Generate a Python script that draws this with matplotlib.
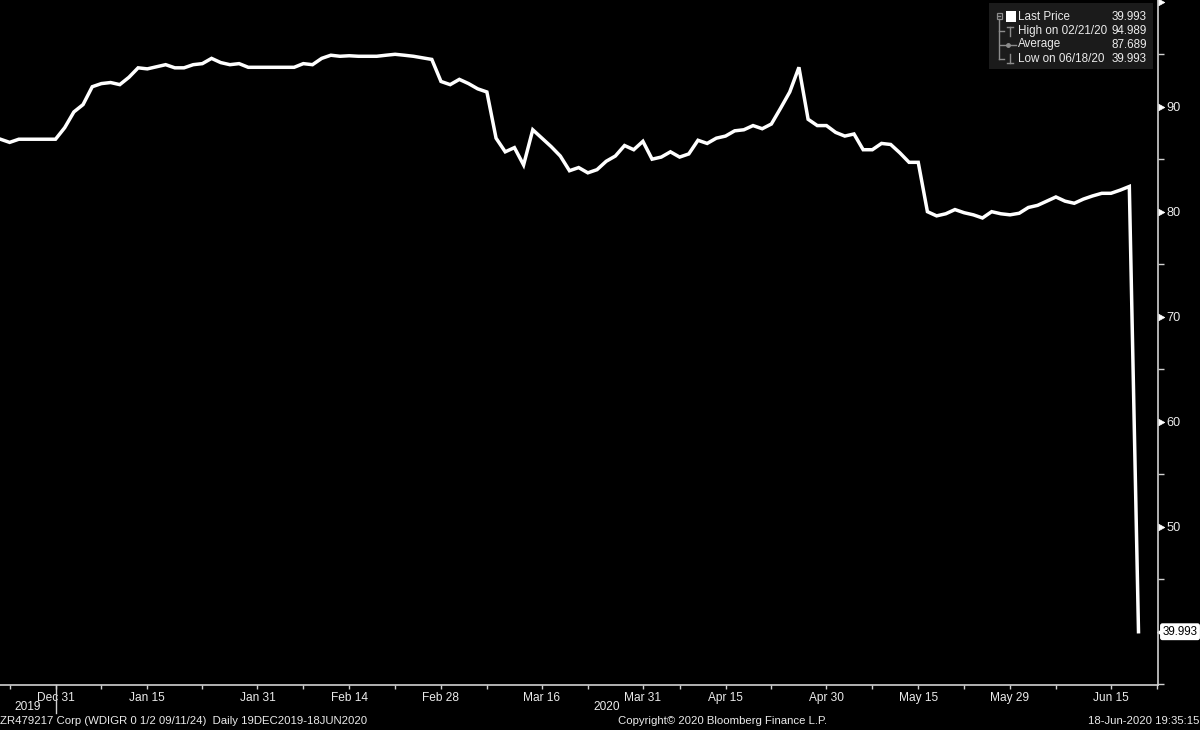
import numpy as np
import pandas as pd
import matplotlib
matplotlib.use("Agg")
import matplotlib.pyplot as plt
from matplotlib.path import Path
from matplotlib.patches import Rectangle
from matplotlib.lines import Line2D
import matplotlib.transforms as mtransforms

# ---------------- data ----------------
start_date = "2019-12-19"
end_date = "2020-06-18"
holidays = ["2019-12-25", "2019-12-26", "2020-01-01", "2020-04-10", "2020-04-13", "2020-05-01"]
dates = pd.bdate_range(start_date, end_date, freq="C", holidays=holidays)

prices = [
    86.9, 86.6, 86.9, 86.9, 86.9, 86.9, 86.9,
    88.0, 89.5, 90.2, 91.9, 92.2, 92.3, 92.1, 92.8, 93.7, 93.6,
    93.8, 94.0, 93.7, 93.7, 94.0, 94.1, 94.6, 94.2, 94.0, 94.1,
    93.75, 93.75, 93.75, 93.75, 93.75, 93.75,
    94.1, 94.0, 94.6, 94.9, 94.8, 94.85, 94.8, 94.8, 94.8, 94.9, 94.989,
    94.9, 94.8, 94.65, 94.5, 92.4, 92.1, 92.6, 92.2, 91.7, 91.4,
    87.0, 85.7, 86.1, 84.45, 87.8, 87.0, 86.2, 85.3, 83.9, 84.2,
    83.7, 84.0, 84.8, 85.3, 86.3, 85.9, 86.7, 85.0, 85.2, 85.7,
    85.2, 85.5, 86.8, 86.5, 87.0, 87.2, 87.7, 87.8, 88.2, 87.9,
    88.35, 89.85, 91.4, 93.75, 88.8, 88.2, 88.2, 87.55, 87.2, 87.4,
    85.9, 85.9, 86.5, 86.4, 85.6, 84.7, 84.7, 80.0, 79.6, 79.8,
    80.2, 79.9, 79.7, 79.4, 80.0, 79.8, 79.7, 79.85, 80.4, 80.6,
    81.0, 81.4, 81.0, 80.8, 81.2, 81.5, 81.75, 81.75, 82.05, 82.4,
    39.993,
]

tick_dates = ["2019-12-31", "2020-01-15", "2020-01-31", "2020-02-14", "2020-02-28",
              "2020-03-16", "2020-03-31", "2020-04-15", "2020-04-30", "2020-05-15",
              "2020-05-29", "2020-06-15"]
tick_labels = ["Dec 31", "Jan 15", "Jan 31", "Feb 14", "Feb 28", "Mar 16",
               "Mar 31", "Apr 15", "Apr 30", "May 15", "May 29", "Jun 15"]
year_labels = ["2019", "2020"]
y_major = [50, 60, 70, 80, 90, 100]
y_minor = [35, 45, 55, 65, 75, 85, 95]

legend_labels = ["Last Price", "High on 02/21/20", "Average", "Low on 06/18/20"]
legend_values = ["39.993", "94.989", "87.689", "39.993"]

footer_left = "ZR479217 Corp (WDIGR 0 1/2 09/11/24)  Daily 19DEC2019-18JUN2020"
footer_mid = "Copyright\u00a9 2020 Bloomberg Finance L.P."
footer_right = "18-Jun-2020 19:35:15"

# ---------------- figure ----------------
W, H = 1200, 730
plt.rcParams['font.family'] = ['Liberation Sans', 'DejaVu Sans']
fig = plt.figure(figsize=(W / 100, H / 100), dpi=100, facecolor="black")

def fx(x):
    return x / W

def fy(y):
    return 1 - y / H

txt_col = "#ebebeb"
ax_right_px = 1157.5
ax_bottom_px = 685
ax = fig.add_axes([0, fy(ax_bottom_px), fx(ax_right_px), ax_bottom_px / H])
ax.set_facecolor("black")

idx = np.arange(len(dates))
ax.plot(idx, prices, color="white", lw=2.5, solid_joinstyle="miter", zorder=3)

ax.set_xlim(-0.05, 126.07)
ax.set_ylim(34.92, 100.16)

# spines
for s in ["top", "left"]:
    ax.spines[s].set_visible(False)
axis_col = "#d0d0d0"
ax.spines["right"].set_color(axis_col)
ax.spines["bottom"].set_color(axis_col)
ax.spines["right"].set_linewidth(1.2)
ax.spines["bottom"].set_linewidth(1.2)

# x ticks
date_index = {d.strftime("%Y-%m-%d"): i for i, d in enumerate(dates)}
major_pos = [date_index[d] for d in tick_dates]
minor_pos = [major_pos[0] - 5] + [int((a + b) / 2) for a, b in zip(major_pos[:-1], major_pos[1:])] + [126.0]
ax.set_xticks(major_pos)
ax.set_xticklabels(tick_labels)
ax.set_xticks(minor_pos, minor=True)
ax.tick_params(axis="x", which="both", direction="out", length=3, width=1, color=axis_col,
               labelcolor=txt_col, labelsize=8.6, pad=2)

# y ticks on right
ax.yaxis.tick_right()
ax.set_yticks(y_major)
ax.set_yticklabels([str(v) if v < 100 else "" for v in y_major])
ax.set_yticks(y_minor, minor=True)
ax.tick_params(axis="y", which="minor", direction="out", length=4, width=1, color=axis_col)
ax.tick_params(axis="y", which="major", direction="out", length=5, width=1, color="white",
               labelcolor=txt_col, labelsize=9.2, pad=1.5)
ax.tick_params(axis="y", which="both", left=False, labelleft=False)

tri = Path([(0, -0.55), (1, 0), (0, 0.55), (0, -0.55)],
           [Path.MOVETO, Path.LINETO, Path.LINETO, Path.CLOSEPOLY])
for t in ax.yaxis.get_major_ticks():
    t.tick2line.set_marker(tri)
    t.tick2line.set_markersize(9)
    t.tick2line.set_markerfacecolor("white")
    t.tick2line.set_markeredgecolor("white")
    t.tick2line.set_markeredgewidth(0.5)

# year separator and labels
xt = ax.get_xaxis_transform()
sep = major_pos[0]
ax.plot([sep, sep], [0, -28 / ax_bottom_px], transform=xt, color=axis_col, lw=1, clip_on=False)
x0, x1 = ax.get_xlim()
ax.text((x0 + sep) / 2, -22 / ax_bottom_px, year_labels[0], transform=xt, ha="center", va="center",
        color=txt_col, fontsize=8.6)
ax.text((sep + x1) / 2, -22 / ax_bottom_px, year_labels[1], transform=xt, ha="center", va="center",
        color=txt_col, fontsize=8.6)

# last-price tag on the right axis
last = prices[-1]
yt = ax.get_yaxis_transform()
off_text = mtransforms.offset_copy(yt, fig=fig, x=5, y=0, units="dots")
ax.text(1.0, last, f"{last:.3f}", transform=off_text, ha="left", va="center", fontsize=8.4,
        color="black", clip_on=False,
        bbox=dict(boxstyle="round,pad=0.15,rounding_size=0.15", facecolor="white", edgecolor="white"))
off_tri = mtransforms.offset_copy(yt, fig=fig, x=3.5, y=0, units="dots")
ax.plot([1.0], [last], marker="<", markersize=6, color="white", transform=off_tri, clip_on=False)

# ---------------- legend box ----------------
fig.patches.append(Rectangle((fx(989), fy(69)), fx(1153) - fx(989), (69 - 3) / H,
                             transform=fig.transFigure, facecolor="#1b1b1b", edgecolor="none", zorder=5))
gray = "#8c8c8c"
def fline(xs, ys, **kw):
    fig.add_artist(Line2D([fx(x) for x in xs], [fy(y) for y in ys], transform=fig.transFigure,
                          color=gray, lw=1, zorder=6, **kw))

rows_y = [16.5, 31, 44.5, 58.5]
fig.patches.append(Rectangle((fx(996.5), fy(18.5)), 5 / W, 5 / H, transform=fig.transFigure,
                             facecolor="none", edgecolor=gray, lw=0.9, zorder=6))
fline([997.8, 1000.2], [16, 16])
fline([999, 999], [18.5, rows_y[3]])
fline([999, 1004], [rows_y[1], rows_y[1]])
fline([999, 1004], [rows_y[3], rows_y[3]])
fig.patches.append(Rectangle((fx(1006), fy(21.5)), 10 / W, 10 / H, transform=fig.transFigure,
                             facecolor="white", edgecolor="none", zorder=6))
fline([1007, 1013], [26.5, 26.5])
fline([1010, 1010], [26.5, 35.5])
fline([1000, 1016], [rows_y[2], rows_y[2]])
fig.add_artist(Line2D([fx(1008)], [fy(rows_y[2])], transform=fig.transFigure, marker="o",
                      markersize=2.5, color=gray, zorder=6))
fline([1010, 1010], [53.5, 62.5])
fline([1007, 1013], [62.5, 62.5])

for lab, val, yy in zip(legend_labels, legend_values, rows_y):
    fig.text(fx(1018), fy(yy), lab, ha="left", va="center", color=txt_col, fontsize=8.4, zorder=7)
    fig.text(fx(1147), fy(yy), val, ha="right", va="center", color=txt_col, fontsize=8.4, zorder=7)

# ---------------- footer ----------------
fig.text(fx(0), fy(721), footer_left, ha="left", va="center", color=txt_col, fontsize=8.2)
fig.text(fx(723), fy(721), footer_mid, ha="center", va="center", color=txt_col, fontsize=8.2)
fig.text(fx(1199), fy(721), footer_right, ha="right", va="center", color=txt_col, fontsize=8.2)

fig.savefig("out.png", dpi=100, facecolor="black")
